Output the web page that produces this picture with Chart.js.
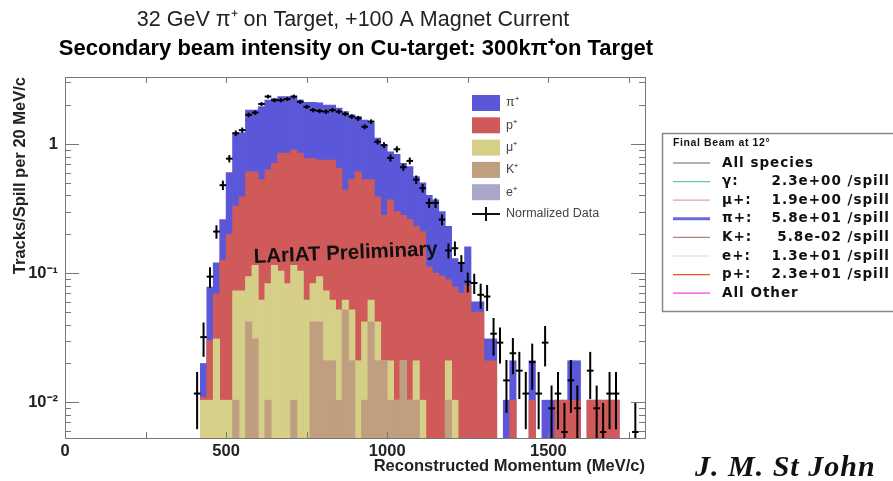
<!DOCTYPE html>
<html>
<head>
<meta charset="utf-8">
<script src="https://cdn.jsdelivr.net/npm/chart.js@4.4.0/dist/chart.umd.min.js"></script>
<style>
  body { margin: 0; background: #fff; }
</style>
</head>
<body>
<canvas id="beam" width="893" height="481"></canvas>
<script>
  // bin centres, 20 MeV/c bins
  const binCenters = [410, 430, 450, 470, 490, 510, 530, 550, 570, 590, 610, 630, 650, 670, 690, 710, 730, 750, 770, 790,
    810, 830, 850, 870, 890, 910, 930, 950, 970, 990, 1010, 1030, 1050, 1070, 1090, 1110, 1130, 1150, 1170, 1190,
    1210, 1230, 1250, 1270, 1290, 1310, 1330, 1350, 1370, 1390, 1410, 1430, 1450, 1470, 1490, 1510, 1530, 1550, 1570, 1590,
    1610, 1630, 1650, 1670, 1690, 1710, 1730, 1750, 1770];

  // stack tops (cumulative)
  const pionStack = [null, 0.020, 0.078, 0.12, 0.26, 0.60, 1.22, 1.22, 1.83, 1.83, 1.95, 2.19, 2.25, 2.33, 2.33, 2.33, 2.19, 2.10, 2.10, 2.08,
    2.0, 2.0, 1.9, 1.78, 1.68, 1.63, 1.53, 1.45, 1.11, 0.98, 0.87, 0.83, 0.71, 0.67, 0.56, 0.50, 0.40, 0.37, 0.30, 0.23,
    0.13, 0.12, 0.16, 0.06, 0.06, 0.031, 0.031, null, 0.0104, 0.021, null, null, 0.021, null, 0.0104, 0.0104, 0.0104, 0.0104, 0.021, 0.021,
    null, 0.0104, 0.0104, 0.0104, 0.0104, 0.0104, null, null, null];
  const protonStack = [null, 0.011, 0.030, 0.069, 0.126, 0.20, 0.33, 0.39, 0.61, 0.61, 0.53, 0.63, 0.71, 0.85, 0.85, 0.90, 0.85, 0.77, 0.77, 0.75,
    0.75, 0.75, 0.65, 0.44, 0.53, 0.61, 0.53, 0.53, 0.39, 0.28, 0.37, 0.30, 0.28, 0.26, 0.23, 0.21, 0.112, 0.10, 0.095, 0.089,
    0.078, 0.07, 0.08, 0.05, 0.05, 0.021, 0.021, null, null, 0.0104, null, null, 0.0104, null, null, null, 0.0104, 0.0104, 0.0104, 0.0104,
    null, 0.0104, 0.0104, 0.0104, 0.0104, 0.0104, null, null, null];
  const muonStack = [null, 0.0104, 0.0104, 0.031, 0.0104, 0.0104, 0.073, 0.073, 0.094, 0.115, 0.062, 0.083, 0.115, 0.104, 0.083, 0.115, 0.104, 0.062, 0.083, 0.094,
    0.073, 0.062, 0.052, 0.062, 0.052, 0.021, 0.042, 0.062, 0.042, 0.021, 0.021, 0.0104, 0.021, 0.0104, 0.021, 0.0104, null, null, null, 0.021,
    0.0104, null, null, null, null, null, null, null, null, null, null, null, null, null, null, null, null, null, null, null,
    null, null, null, null, null, null, null, null, null];
  const kaonStack = [null, null, null, null, null, null, 0.0104, null, 0.042, 0.031, null, 0.0104, null, null, null, 0.0104, null, null, 0.042, 0.042,
    0.021, 0.021, 0.0104, 0.052, 0.021, null, 0.0104, 0.042, 0.021, 0.021, 0.0104, 0.0104, 0.021, 0.0104, 0.0104, null, null, null, null, 0.0104,
    null, null, null, null, null, null, null, null, null, null, null, null, null, null, null, null, null, null, null, null,
    null, null, null, null, null, null, null, null, null];

  // normalized data with errors
  const dataValues = [0.0117, 0.032, 0.094, 0.21, 0.48, 0.77, 1.21, 1.28, 1.68, 1.75, 2.04, 2.33, 2.18, 2.18, 2.23, 2.33, 2.12, 1.94, 1.83, 1.80,
    1.78, 1.83, 1.78, 1.71, 1.63, 1.58, 1.36, 1.49, 1.04, 0.98, 0.78, 0.91, 0.66, 0.74, 0.53, 0.455, 0.35, 0.35, 0.26, 0.15,
    0.156, 0.12, 0.086, 0.084, 0.068, 0.066, 0.034, 0.029, 0.0148, 0.024, 0.0176, 0.0117, 0.0205, 0.0117, 0.029, 0.009, 0.0117, 0.0059, 0.0148, 0.009,
    null, 0.0176, 0.009, 0.0059, 0.0117, 0.0117, null, null, 0.0059];
  const dataErrors = [0.0055, 0.0095, 0.017, 0.025, 0.04, 0.05, 0.06, 0.06, 0.07, 0.07, 0.07, 0.08, 0.08, 0.08, 0.08, 0.08, 0.08, 0.07, 0.07, 0.07,
    0.07, 0.07, 0.07, 0.07, 0.07, 0.07, 0.06, 0.06, 0.05, 0.05, 0.05, 0.05, 0.04, 0.045, 0.04, 0.035, 0.03, 0.03, 0.025, 0.02,
    0.02, 0.018, 0.015, 0.015, 0.015, 0.015, 0.011, 0.009, 0.0065, 0.0075, 0.007, 0.0055, 0.008, 0.0055, 0.01, 0.0045, 0.0055, 0.004, 0.0065, 0.0045,
    null, 0.007, 0.0045, 0.004, 0.0055, 0.0055, null, null, 0.004];

  const xTicks = [0, 500, 1000, 1500];
  const yTicks = [0.01, 0.1, 1];
  const yTickLabels = ['10\u207B\u00B2', '10\u207B\u00B9', '1'];

  const stackLegend = ['\u03C0\u207A', 'p\u207A', '\u03BC\u207A', 'K\u207A', 'e\u207A'];
  const stackColors = ['#5a57d9', '#d05a5a', '#d5cf88', '#c09e80', '#aaa6c8'];

  const beamLegendLabels = ['All species', '\u03B3:', '\u03BC+:', '\u03C0+:', 'K+:', 'e+:', 'p+:', 'All Other'];
  const beamLegendRates = ['', '2.3e+00 /spill', '1.9e+00 /spill', '5.8e+01 /spill', '5.8e-02 /spill', '1.3e+01 /spill', '2.3e+01 /spill', ''];
  const beamLegendColors = ['#666666', '#6cc4a0', '#e8a0a0', '#6a68e0', '#a88878', '#d8d8ec', '#f04a2a', '#f040f0'];

  const pts = arr => binCenters.map((x, i) => ({ x: x, y: arr[i] }));
  const SANS = '"Liberation Sans", Arial, sans-serif';

  const frameAndText = {
    id: 'frameAndText',
    afterDatasetsDraw(chart) {
      const { ctx, chartArea: a, scales: { x, y } } = chart;
      ctx.save();

      // error bars on the data points
      const meta = chart.getDatasetMeta(0);
      ctx.strokeStyle = '#000';
      ctx.lineWidth = 2;
      meta.data.forEach((el, i) => {
        const v = dataValues[i], e = dataErrors[i];
        if (v == null) return;
        const top = Math.max(a.top, y.getPixelForValue(v + e));
        const lo = v - e > 0 ? y.getPixelForValue(v - e) : a.bottom;
        ctx.beginPath();
        ctx.moveTo(el.x, top);
        ctx.lineTo(el.x, Math.min(a.bottom, lo));
        ctx.stroke();
      });

      // frame and inward ticks
      ctx.strokeStyle = '#777';
      ctx.lineWidth = 1;
      ctx.strokeRect(a.left + 0.5, a.top + 0.5, a.right - a.left, a.bottom - a.top);
      ctx.beginPath();
      for (let v = 250; v < 1800; v += 250) {
        const px = Math.round(x.getPixelForValue(v)) + 0.5;
        ctx.moveTo(px, a.bottom); ctx.lineTo(px, a.bottom - 6);
        ctx.moveTo(px, a.top); ctx.lineTo(px, a.top + 6);
      }
      [0.001, 0.01, 0.1, 1].forEach(d => {
        for (let m = 1; m < 10; m++) {
          const v = d * m;
          if (v < y.min || v > y.max) continue;
          const py = Math.round(y.getPixelForValue(v)) + 0.5;
          const len = m === 1 ? 14 : 6;
          ctx.moveTo(a.left, py); ctx.lineTo(a.left + len, py);
          ctx.moveTo(a.right, py); ctx.lineTo(a.right - len, py);
        }
      });
      ctx.stroke();

      // watermark
      ctx.save();
      ctx.translate(254, 263);
      ctx.rotate(-0.042);
      ctx.fillStyle = '#111';
      ctx.font = 'bold 20.5px ' + SANS;
      ctx.textBaseline = 'alphabetic';
      ctx.fillText('LArIAT Preliminary', 0, 0, 192);
      ctx.restore();

      // legend inside the frame
      ctx.font = '12.5px ' + SANS;
      ctx.textBaseline = 'middle';
      stackLegend.forEach((lab, i) => {
        const cy = 103 + i * 22.3;
        ctx.fillStyle = stackColors[i];
        ctx.fillRect(472, cy - 8, 28, 16);
        ctx.fillStyle = '#444';
        ctx.fillText(lab, 506, cy);
      });
      ctx.strokeStyle = '#111';
      ctx.lineWidth = 2;
      ctx.beginPath();
      ctx.moveTo(472, 214); ctx.lineTo(500, 214);
      ctx.moveTo(486, 207); ctx.lineTo(486, 221);
      ctx.stroke();
      ctx.fillStyle = '#444';
      ctx.fillText('Normalized Data', 506, 214);

      // titles
      ctx.fillStyle = '#222';
      ctx.textAlign = 'center';
      ctx.textBaseline = 'alphabetic';
      ctx.font = '21.5px ' + SANS;
      ctx.fillText('32 GeV \u03C0\u207A on Target, +100 A Magnet Current', 353, 26, 437);
      ctx.fillStyle = '#000';
      ctx.font = 'bold 22px ' + SANS;
      ctx.fillText('Secondary beam intensity on Cu-target: 300k\u03C0\u207Aon Target', 356, 55, 603);

      // signature
      ctx.textAlign = 'left';
      ctx.font = 'bold italic 30px "Liberation Serif", "Times New Roman", serif';
      ctx.fillStyle = '#111';
      ctx.letterSpacing = '1px';
      ctx.fillText('J. M. St John', 695, 476, 186);

      // beam legend box
      ctx.fillStyle = '#fff';
      ctx.fillRect(662, 133, 231, 179);
      ctx.strokeStyle = '#888';
      ctx.lineWidth = 1.5;
      ctx.strokeRect(662.5, 133.5, 240, 178);
      ctx.fillStyle = '#111';
      ctx.textBaseline = 'middle';
      ctx.letterSpacing = '0.6px';
      ctx.font = 'bold 10.5px ' + SANS;
      ctx.fillText('Final Beam at 12\u00B0', 673, 143);
      ctx.letterSpacing = '1px';
      beamLegendLabels.forEach((lab, i) => {
        const cy = 163 + i * 18.6;
        ctx.strokeStyle = beamLegendColors[i];
        ctx.lineWidth = i === 3 ? 3 : 1.2;
        ctx.beginPath();
        ctx.moveTo(673, cy); ctx.lineTo(710, cy);
        ctx.stroke();
        ctx.fillStyle = '#111';
        ctx.textAlign = 'left';
        ctx.font = 'bold 13.5px "DejaVu Sans", sans-serif';
        ctx.fillText(lab, 722, cy);
        if (beamLegendRates[i]) {
          ctx.textAlign = 'right';
          ctx.fillText(beamLegendRates[i], 890, cy);
        }
      });
      ctx.restore();
    }
  };

  const barSet = (label, arr, color, order) => ({
    type: 'bar', label: label, data: pts(arr), backgroundColor: color, borderWidth: 0,
    grouped: false, barPercentage: 1, categoryPercentage: 1, order: order
  });

  new Chart(document.getElementById('beam'), {
    type: 'bar',
    data: {
      datasets: [
        {
          type: 'line', label: 'Normalized Data', data: pts(dataValues), showLine: false,
          pointStyle: 'line', pointRadius: 3.3, pointBorderWidth: 2, pointBorderColor: '#000',
          pointBackgroundColor: '#000', order: 0
        },
        barSet('K+', kaonStack, stackColors[3], 1),
        barSet('mu+', muonStack, stackColors[2], 2),
        barSet('p+', protonStack, stackColors[1], 3),
        barSet('pi+', pionStack, stackColors[0], 4)
      ]
    },
    options: {
      responsive: false,
      animation: false,
      layout: { padding: { top: 77, right: 248, left: 0, bottom: 0 } },
      plugins: { legend: { display: false }, tooltip: { enabled: false } },
      scales: {
        x: {
          type: 'linear', min: 0, max: 1800, offset: false,
          grid: { display: false, drawTicks: false, offset: false }, border: { display: false },
          afterBuildTicks: s => { s.ticks = xTicks.map(v => ({ value: v })); },
          ticks: { color: '#222', font: { family: SANS, size: 16.5, weight: 'bold' }, padding: 4, maxRotation: 0,
            callback: v => String(v) },
          title: { display: true, text: 'Reconstructed Momentum (MeV/c)', align: 'end', color: '#222',
            font: { family: SANS, size: 16.5, weight: 'bold' }, padding: { top: 0, bottom: 5 } },
          afterFit: s => { s.height = 43; }
        },
        y: {
          type: 'logarithmic', min: 0.0053, max: 3.3,
          grid: { display: false, drawTicks: false }, border: { display: false },
          afterBuildTicks: s => { s.ticks = yTicks.map(v => ({ value: v })); },
          ticks: { color: '#222', font: { family: SANS, size: 16.5, weight: 'bold' }, padding: 7,
            callback: (v) => yTickLabels[yTicks.indexOf(v)] },
          title: { display: true, text: 'Tracks/Spill per 20 MeV/c', align: 'end', color: '#222',
            font: { family: SANS, size: 16.5, weight: 'bold' }, padding: { top: 11, bottom: 0 } },
          afterFit: s => { s.width = 65; }
        }
      }
    },
    plugins: [frameAndText]
  });
</script>
</body>
</html>
